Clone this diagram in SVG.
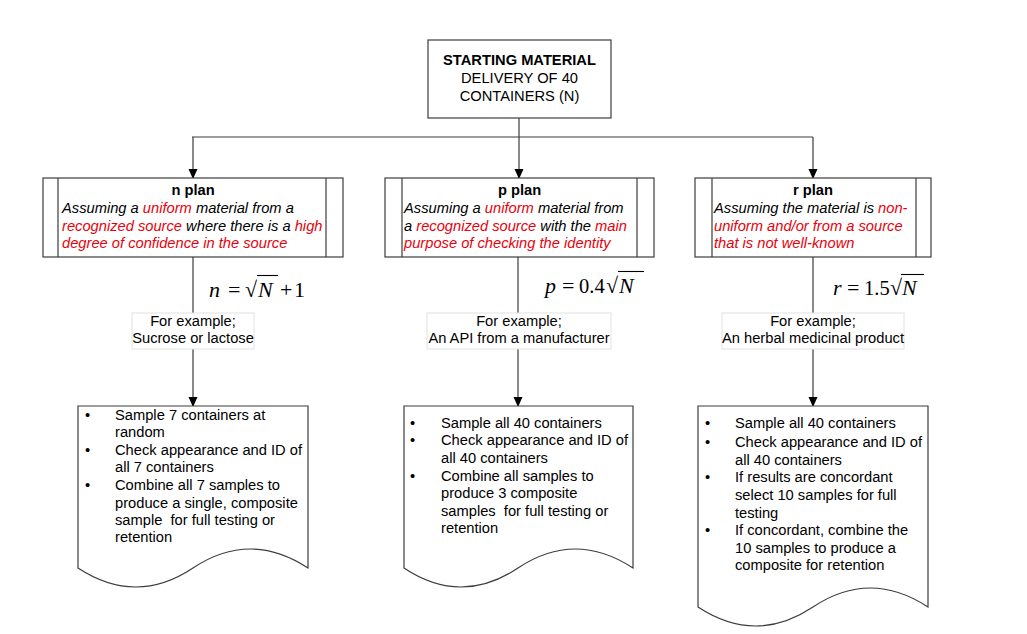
<svg xmlns="http://www.w3.org/2000/svg" width="1027" height="634" viewBox="0 0 1027 634">
<style>
.box{fill:#fff;stroke:#3c3c3c;stroke-width:1.2}
.ex{fill:#fff;stroke:#e2e2e2;stroke-width:1}
.ln{stroke:#3c3c3c;stroke-width:1.2;fill:none}
.t{font-family:"Liberation Sans",Arial,sans-serif;font-size:14.7px;fill:#000}
.b{font-weight:bold}
.i{font-style:italic}
.r{fill:#e8000b}
.m{font-family:"Liberation Serif","Times New Roman",serif;font-size:22px;fill:#000}
.v{font-style:italic}
.d{font-size:20.5px}
.bar{stroke:#000;stroke-width:1.1}
</style>
<defs>
<marker id="ah" markerWidth="10" markerHeight="10" refX="9" refY="5" orient="auto" markerUnits="userSpaceOnUse">
<path d="M0,0.5 L10,5 L0,9.5 Z" fill="#000"/>
</marker>
</defs>
<rect width="1027" height="634" fill="#fff"/>
<g id="connectors">
<path class="ln" d="M519,118 V137"/>
<path class="ln" d="M192,137 H813"/>
<path class="ln" d="M193,137 V178" marker-end="url(#ah)"/>
<path class="ln" d="M519,137 V178" marker-end="url(#ah)"/>
<path class="ln" d="M813,137 V178" marker-end="url(#ah)"/>
<path class="ln" d="M193,257 V406" marker-end="url(#ah)"/>
<path class="ln" d="M518,257 V406" marker-end="url(#ah)"/>
<path class="ln" d="M813,257 V406" marker-end="url(#ah)"/>
</g>
<g id="start">
<rect class="box" x="428" y="40" width="183" height="78"/>
<text class="t" text-anchor="middle" x="519.5"><tspan class="b" x="519.5" y="65">STARTING MATERIAL</tspan><tspan x="519.5" y="83">DELIVERY OF 40</tspan><tspan x="519.5" y="101">CONTAINERS (N)</tspan></text>
</g>
<g id="nplan">
<rect class="box" x="43" y="178" width="300" height="79"/>
<path class="ln" d="M58,178 V257 M326,178 V257"/>
<text class="t b" x="193" y="195" text-anchor="middle">n plan</text>
<text class="t i" x="62" y="213">Assuming a <tspan class="r">uniform</tspan> material from a</text>
<text class="t i" x="62" y="231"><tspan class="r">recognized source</tspan> where there is a <tspan class="r">high</tspan></text>
<text class="t i r" x="62" y="248">degree of confidence in the source</text>
</g>
<g id="pplan">
<rect class="box" x="385" y="178" width="269" height="79"/>
<path class="ln" d="M402,178 V257 M637,178 V257"/>
<text class="t b" x="519.5" y="195" text-anchor="middle">p plan</text>
<text class="t i" x="404" y="213">Assuming a <tspan class="r">uniform</tspan> material from</text>
<text class="t i" x="404" y="231">a <tspan class="r">recognized source</tspan> with the <tspan class="r">main</tspan></text>
<text class="t i r" x="404" y="248">purpose of checking the identity</text>
</g>
<g id="rplan">
<rect class="box" x="695" y="178" width="236" height="79"/>
<path class="ln" d="M712,178 V257 M916,178 V257"/>
<text class="t b" x="813" y="195" text-anchor="middle">r plan</text>
<text class="t i" x="714" y="213">Assuming the material is <tspan class="r">non-</tspan></text>
<text class="t i r" x="714" y="231">uniform and/or from a source</text>
<text class="t i r" x="714" y="248">that is not well-known</text>
</g>
<g id="nformula">
<text class="m" y="297"><tspan class="v" x="209">n</tspan><tspan x="228">=</tspan><tspan x="245">√</tspan><tspan class="v" x="258">N</tspan><tspan x="280">+</tspan><tspan x="294">1</tspan></text>
<path class="bar" d="M257,275.5 H278"/>
</g>
<g id="pformula">
<text class="m" y="293"><tspan class="v" x="545">p</tspan><tspan x="562">=</tspan><tspan class="d" x="579">0.4</tspan><tspan x="606">√</tspan><tspan class="v" x="619">N</tspan></text>
<path class="bar" d="M618,271.5 H644"/>
</g>
<g id="rformula">
<text class="m" y="295"><tspan class="v" x="833">r</tspan><tspan x="847">=</tspan><tspan class="d" x="864">1.5</tspan><tspan x="890">√</tspan><tspan class="v" x="902">N</tspan></text>
<path class="bar" d="M901,274.5 H924"/>
</g>
<g id="nexample">
<rect class="ex" x="132" y="313" width="122" height="36"/>
<text class="t" text-anchor="middle"><tspan x="193" y="326">For example;</tspan><tspan x="193" y="343">Sucrose or lactose</tspan></text>
</g>
<g id="pexample">
<rect class="ex" x="427" y="313" width="184" height="36"/>
<text class="t" text-anchor="middle"><tspan x="519" y="326">For example;</tspan><tspan x="519" y="343">An API from a manufacturer</tspan></text>
</g>
<g id="rexample">
<rect class="ex" x="722" y="313" width="182" height="36"/>
<text class="t" text-anchor="middle"><tspan x="813" y="326">For example;</tspan><tspan x="813" y="343">An herbal medicinal product</tspan></text>
</g>
<g id="ndoc">
<path class="box" d="M78,406 H308 V568 Q250,530 193,568 Q136,606 78,568 Z"/>
<text class="t" xml:space="preserve"><tspan x="85" y="420">•</tspan><tspan x="115" y="420">Sample 7 containers at</tspan><tspan x="115" y="437">random</tspan><tspan x="85" y="455">•</tspan><tspan x="115" y="455">Check appearance and ID of</tspan><tspan x="115" y="472">all 7 containers</tspan><tspan x="85" y="490">•</tspan><tspan x="115" y="490">Combine all 7 samples to</tspan><tspan x="115" y="508">produce a single, composite</tspan><tspan x="115" y="525">sample  for full testing or</tspan><tspan x="115" y="542">retention</tspan></text>
</g>
<g id="pdoc">
<path class="box" d="M404,406 H633 V568 Q575,530 518,568 Q461,606 404,568 Z"/>
<text class="t" xml:space="preserve"><tspan x="410" y="428">•</tspan><tspan x="441" y="428">Sample all 40 containers</tspan><tspan x="410" y="445">•</tspan><tspan x="441" y="445">Check appearance and ID of</tspan><tspan x="441" y="463">all 40 containers</tspan><tspan x="410" y="481">•</tspan><tspan x="441" y="481">Combine all samples to</tspan><tspan x="441" y="498">produce 3 composite</tspan><tspan x="441" y="516">samples  for full testing or</tspan><tspan x="441" y="533">retention</tspan></text>
</g>
<g id="rdoc">
<path class="box" d="M698,406 H928 V607 Q870,569 813,607 Q756,645 698,607 Z"/>
<text class="t"><tspan x="705" y="428">•</tspan><tspan x="735" y="428">Sample all 40 containers</tspan><tspan x="705" y="447">•</tspan><tspan x="735" y="447">Check appearance and ID of</tspan><tspan x="735" y="465">all 40 containers</tspan><tspan x="705" y="482">•</tspan><tspan x="735" y="482">If results are concordant</tspan><tspan x="735" y="500">select 10 samples for full</tspan><tspan x="735" y="518">testing</tspan><tspan x="705" y="535">•</tspan><tspan x="735" y="535">If concordant, combine the</tspan><tspan x="735" y="553">10 samples to produce a</tspan><tspan x="735" y="570">composite for retention</tspan></text>
</g>
</svg>
